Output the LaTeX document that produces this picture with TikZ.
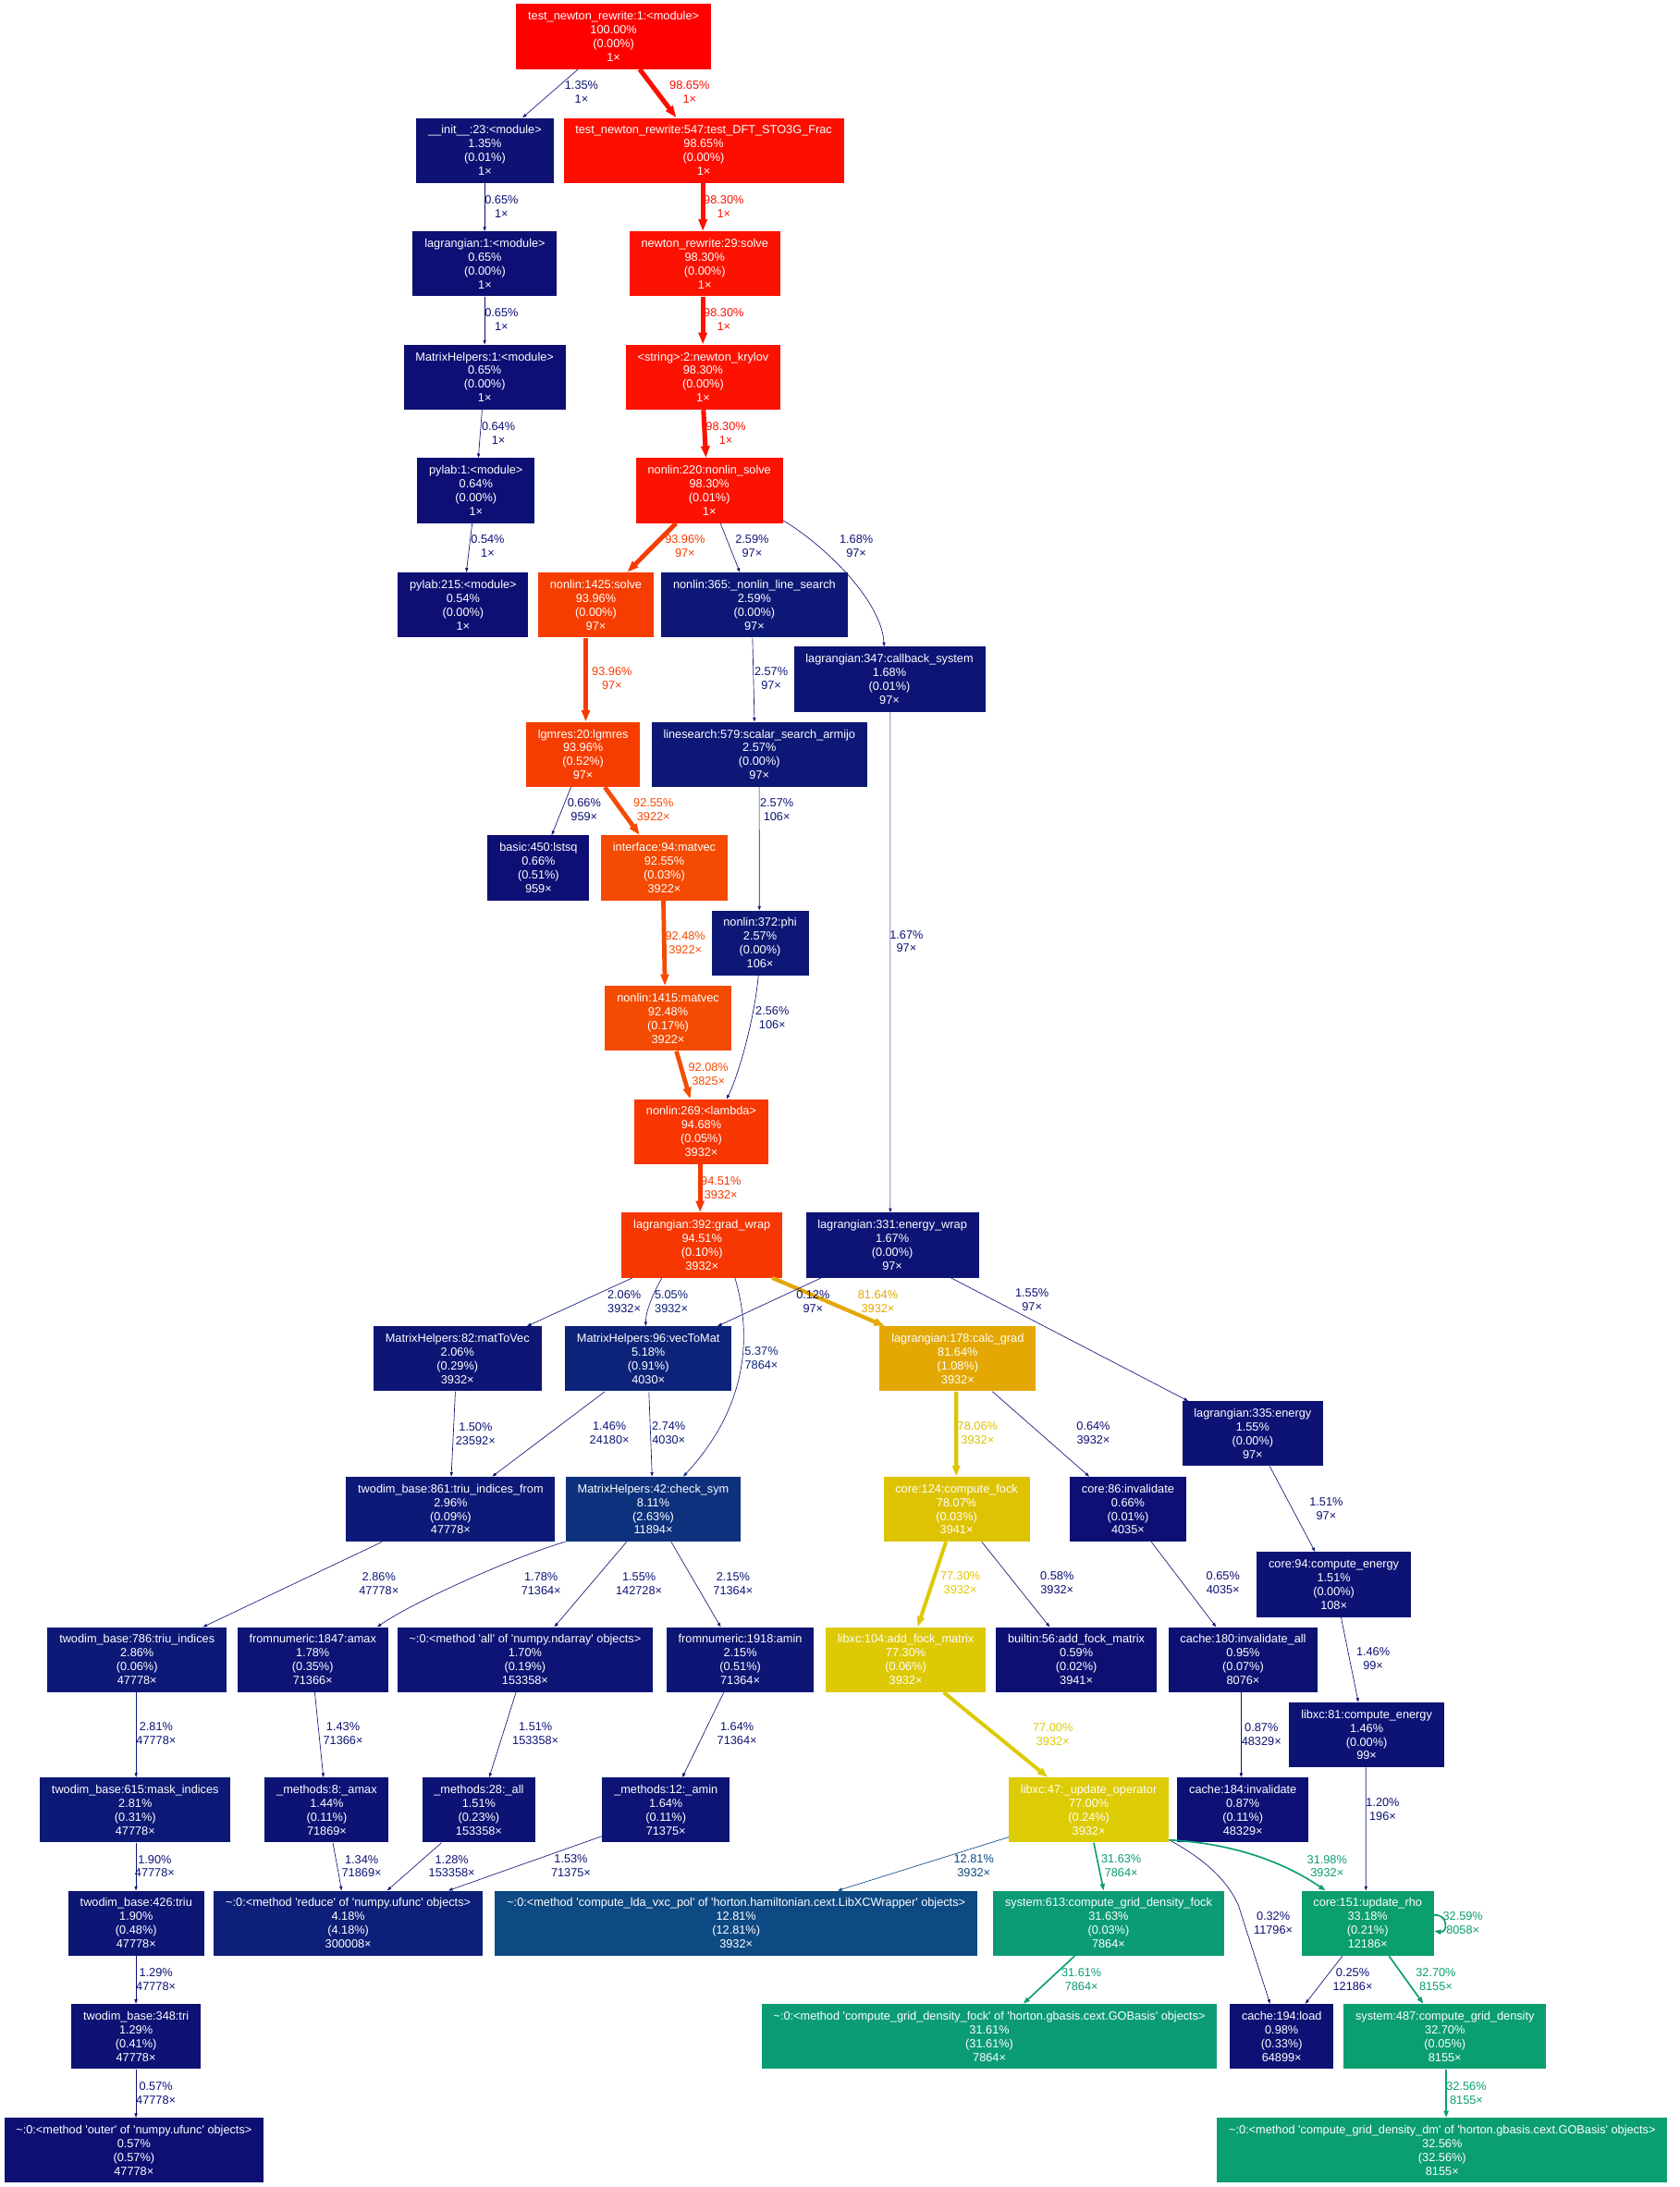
\documentclass[tikz,border=0pt]{standalone}
\usepackage{fontspec}
\usetikzlibrary{arrows.meta}
\newfontfamily\gpf{Liberation Sans}
\newcommand\gpfont{\gpf\fontsize{8.45pt}{9.9pt}\selectfont}
\newcommand\gpq{\textquotesingle}
\newcommand\gphue[2]{%
  \pgfmathsetmacro\gpx{(#2)+1-floor((#2)+1)}%
  \pgfmathsetmacro#1{max(0,min(1,ifthenelse(\gpx*6<1,\gpma+(\gpmb-\gpma)*\gpx*6,ifthenelse(\gpx*2<1,\gpmb,ifthenelse(\gpx*3<2,\gpma+(\gpmb-\gpma)*(2/3-\gpx)*6,\gpma)))))}}
\newcommand\gpdef[2]{%
  \pgfmathsetmacro\gpw{#2/100}%
  \pgfmathsetmacro\gph{2/3*(1-\gpw)}%
  \pgfmathsetmacro\gps{0.8+0.2*\gpw}%
  \pgfmathsetmacro\gpl{0.25+0.25*\gpw}%
  \pgfmathsetmacro\gpmb{\gpl*(1+\gps)}%
  \pgfmathsetmacro\gpma{2*\gpl-\gpmb}%
  \gphue\gpR{\gph+1/3}%
  \gphue\gpG{\gph}%
  \gphue\gpB{\gph-1/3}%
  \edef\gptmp{\noexpand\definecolor{#1}{rgb}{\gpR,\gpG,\gpB}}\gptmp}
\tikzset{
  gpn/.code={\gpdef{gpc}{#1}\pgfkeysalso{fill=gpc}},
  nd/.style={rectangle, gpn=#1, text=white, font=\gpfont, align=center,
    inner xsep=8.5pt, inner ysep=0pt, minimum height=46.5pt, anchor=west},
  ed/.code={%
    \gpdef{gpc}{#1}%
    \pgfmathsetmacro\gppw{max(4*#1/100,0.5)}%
    \pgfmathsetmacro\gplw{0.855*\gppw}%
    \pgfmathsetmacro\gpal{0.855*5*sqrt(\gppw)}%
    \pgfmathsetmacro\gpaw{0.7*\gpal}%
    \edef\gptmp{\noexpand\pgfkeysalso{color=gpc,line width=\gplw pt,-{Triangle[length=\gpal pt,width=\gpaw pt]}}}%
    \gptmp},
  elab/.style={font=\gpfont, align=center, inner sep=0pt},
}
\begin{document}
\begin{tikzpicture}[x=1pt,y=-1pt]
\fill[white] (0,0) rectangle (1204.6,1568);
\useasboundingbox (0,0) rectangle (1204.6,1568);
% nodes
\node[nd=100] (n1) at (370,26.2) {test\_newton\_rewrite:1:<module>\\100.00\%\\(0.00\%)\\1×};
\node[nd=1.35] (n2) at (298.4,107.8) {\_\_init\_\_:23:<module>\\1.35\%\\(0.01\%)\\1×};
\node[nd=98.65] (n3) at (403.9,107.8) {test\_newton\_rewrite:547:test\_DFT\_STO3G\_Frac\\98.65\%\\(0.00\%)\\1×};
\node[nd=0.65] (n4) at (295.8,189.2) {lagrangian:1:<module>\\0.65\%\\(0.00\%)\\1×};
\node[nd=98.30] (n5) at (451.1,189.2) {newton\_rewrite:29:solve\\98.30\%\\(0.00\%)\\1×};
\node[nd=0.65] (n6) at (289.3,270.4) {MatrixHelpers:1:<module>\\0.65\%\\(0.00\%)\\1×};
\node[nd=98.30] (n7) at (448.5,270.4) {<string>:2:newton\_krylov\\98.30\%\\(0.00\%)\\1×};
\node[nd=0.64] (n8) at (299,351.7) {pylab:1:<module>\\0.64\%\\(0.00\%)\\1×};
\node[nd=98.30] (n9) at (455.8,351.7) {nonlin:220:nonlin\_solve\\98.30\%\\(0.01\%)\\1×};
\node[nd=0.54] (n10) at (285.1,433.7) {pylab:215:<module>\\0.54\%\\(0.00\%)\\1×};
\node[nd=93.96] (n11) at (385.7,433.7) {nonlin:1425:solve\\93.96\%\\(0.00\%)\\97×};
\node[nd=2.59] (n12) at (474,433.7) {nonlin:365:\_nonlin\_line\_search\\2.59\%\\(0.00\%)\\97×};
\node[nd=1.68] (n13) at (569,487) {lagrangian:347:callback\_system\\1.68\%\\(0.01\%)\\97×};
\node[nd=2.57] (n14) at (467,540.9) {linesearch:579:scalar\_search\_armijo\\2.57\%\\(0.00\%)\\97×};
\node[nd=93.96] (n15) at (377,540.9) {lgmres:20:lgmres\\93.96\%\\(0.52\%)\\97×};
\node[nd=0.66] (n16) at (349.5,622.2) {basic:450:lstsq\\0.66\%\\(0.51\%)\\959×};
\node[nd=92.55] (n17) at (430.8,622.2) {interface:94:matvec\\92.55\%\\(0.03\%)\\3922×};
\node[nd=2.57] (n18) at (510,676.1) {nonlin:372:phi\\2.57\%\\(0.00\%)\\106×};
\node[nd=92.48] (n19) at (433.7,730.2) {nonlin:1415:matvec\\92.48\%\\(0.17\%)\\3922×};
\node[nd=94.68] (n20) at (454.7,811.4) {nonlin:269:<lambda>\\94.68\%\\(0.05\%)\\3932×};
\node[nd=94.51] (n21) at (445.6,892.7) {lagrangian:392:grad\_wrap\\94.51\%\\(0.10\%)\\3932×};
\node[nd=1.67] (n22) at (577.6,892.7) {lagrangian:331:energy\_wrap\\1.67\%\\(0.00\%)\\97×};
\node[nd=2.06, anchor=east] (n23) at (388.4,974.2) {MatrixHelpers:82:matToVec\\2.06\%\\(0.29\%)\\3932×};
\node[nd=5.18] (n24) at (405,974.2) {MatrixHelpers:96:vecToMat\\5.18\%\\(0.91\%)\\4030×};
\node[nd=81.64] (n25) at (630.6,974.2) {lagrangian:178:calc\_grad\\81.64\%\\(1.08\%)\\3932×};
\node[nd=1.55] (n26) at (847.5,1027.9) {lagrangian:335:energy\\1.55\%\\(0.00\%)\\97×};
\node[nd=2.96] (n27) at (248,1082) {twodim\_base:861:triu\_indices\_from\\2.96\%\\(0.09\%)\\47778×};
\node[nd=8.11] (n28) at (405.5,1082) {MatrixHelpers:42:check\_sym\\8.11\%\\(2.63\%)\\11894×};
\node[nd=78.07] (n29) at (633.3,1082) {core:124:compute\_fock\\78.07\%\\(0.03\%)\\3941×};
\node[nd=0.66] (n30) at (767,1082) {core:86:invalidate\\0.66\%\\(0.01\%)\\4035×};
\node[nd=1.51] (n31) at (901,1136) {core:94:compute\_energy\\1.51\%\\(0.00\%)\\108×};
\node[nd=2.86] (n32) at (33.9,1189.9) {twodim\_base:786:triu\_indices\\2.86\%\\(0.06\%)\\47778×};
\node[nd=1.78] (n33) at (170,1189.9) {fromnumeric:1847:amax\\1.78\%\\(0.35\%)\\71366×};
\node[nd=1.70] (n34) at (284.7,1189.9) {\textasciitilde:0:<method \gpq all\gpq\ of \gpq numpy.ndarray\gpq\ objects>\\1.70\%\\(0.19\%)\\153358×};
\node[nd=2.15] (n35) at (477.7,1189.9) {fromnumeric:1918:amin\\2.15\%\\(0.51\%)\\71364×};
\node[nd=77.30, anchor=east] (n36) at (707,1189.9) {libxc:104:add\_fock\_matrix\\77.30\%\\(0.06\%)\\3932×};
\node[nd=0.59] (n37) at (714,1189.9) {builtin:56:add\_fock\_matrix\\0.59\%\\(0.02\%)\\3941×};
\node[nd=0.95] (n38) at (837.6,1189.9) {cache:180:invalidate\_all\\0.95\%\\(0.07\%)\\8076×};
\node[nd=1.46] (n39) at (924.3,1243.8) {libxc:81:compute\_energy\\1.46\%\\(0.00\%)\\99×};
\node[nd=2.81] (n40) at (28.4,1297.7) {twodim\_base:615:mask\_indices\\2.81\%\\(0.31\%)\\47778×};
\node[nd=1.44] (n41) at (189.7,1297.7) {\_methods:8:\_amax\\1.44\%\\(0.11\%)\\71869×};
\node[nd=1.51] (n42) at (302.5,1297.7) {\_methods:28:\_all\\1.51\%\\(0.23\%)\\153358×};
\node[nd=1.64] (n43) at (431.7,1297.7) {\_methods:12:\_amin\\1.64\%\\(0.11\%)\\71375×};
\node[nd=77.00] (n44) at (723.2,1297.7) {libxc:47:\_update\_operator\\77.00\%\\(0.24\%)\\3932×};
\node[nd=0.87] (n45) at (844,1297.7) {cache:184:invalidate\\0.87\%\\(0.11\%)\\48329×};
\node[nd=1.90] (n46) at (48.8,1378.9) {twodim\_base:426:triu\\1.90\%\\(0.48\%)\\47778×};
\node[nd=4.18] (n47) at (153.2,1378.9) {\textasciitilde:0:<method \gpq reduce\gpq\ of \gpq numpy.ufunc\gpq\ objects>\\4.18\%\\(4.18\%)\\300008×};
\node[nd=12.81] (n48) at (354.8,1378.9) {\textasciitilde:0:<method \gpq compute\_lda\_vxc\_pol\gpq\ of \gpq horton.hamiltonian.cext.LibXCWrapper\gpq\ objects>\\12.81\%\\(12.81\%)\\3932×};
\node[nd=31.63] (n49) at (712,1378.9) {system:613:compute\_grid\_density\_fock\\31.63\%\\(0.03\%)\\7864×};
\node[nd=33.18] (n50) at (933,1378.9) {core:151:update\_rho\\33.18\%\\(0.21\%)\\12186×};
\node[nd=1.29] (n51) at (51,1460) {twodim\_base:348:tri\\1.29\%\\(0.41\%)\\47778×};
\node[nd=31.61, anchor=east] (n52) at (873,1460) {\textasciitilde:0:<method \gpq compute\_grid\_density\_fock\gpq\ of \gpq horton.gbasis.cext.GOBasis\gpq\ objects>\\31.61\%\\(31.61\%)\\7864×};
\node[nd=0.98] (n53) at (881.7,1460) {cache:194:load\\0.98\%\\(0.33\%)\\64899×};
\node[nd=32.70] (n54) at (963.3,1460) {system:487:compute\_grid\_density\\32.70\%\\(0.05\%)\\8155×};
\node[nd=0.57] (n55) at (2.8,1541.7) {\textasciitilde:0:<method \gpq outer\gpq\ of \gpq numpy.ufunc\gpq\ objects>\\0.57\%\\(0.57\%)\\47778×};
\node[nd=32.56] (n56) at (872.5,1541.7) {\textasciitilde:0:<method \gpq compute\_grid\_density\_dm\gpq\ of \gpq horton.gbasis.cext.GOBasis\gpq\ objects>\\32.56\%\\(32.56\%)\\8155×};
% edges
\draw[ed=1.35] ([xshift=44.5pt]n1.south west) -- ([xshift=76.3pt]n2.north west) node[elab,at={(417,66)}]{1.35\%\\1×};
\draw[ed=98.65] ([xshift=88.7pt]n1.south west) -- ([xshift=81.1pt]n3.north west) node[elab,at={(494.5,66)}]{98.65\%\\1×};
\draw[ed=98.30] ([xshift=100.1pt]n3.south west) -- ([xshift=52.9pt]n5.north west) node[elab,at={(519,148)}]{98.30\%\\1×};
\draw[ed=0.65] ([xshift=49.1pt]n2.south west) -- ([xshift=51.7pt]n4.north west) node[elab,at={(359.6,148)}]{0.65\%\\1×};
\draw[ed=0.65] ([xshift=51.7pt]n4.south west) -- ([xshift=58.2pt]n6.north west) node[elab,at={(359.6,229)}]{0.65\%\\1×};
\draw[ed=98.30] ([xshift=52.9pt]n5.south west) -- ([xshift=55.5pt]n7.north west) node[elab,at={(519,229)}]{98.30\%\\1×};
\draw[ed=0.64] ([xshift=56.4pt]n6.south west) -- ([xshift=44pt]n8.north west) node[elab,at={(357.4,310.4)}]{0.64\%\\1×};
\draw[ed=98.30] ([xshift=55.9pt]n7.south west) -- ([xshift=50.4pt]n9.north west) node[elab,at={(520.5,310.4)}]{98.30\%\\1×};
\draw[ed=0.54] ([xshift=39.6pt]n8.south west) -- ([xshift=49.3pt]n10.north west) node[elab,at={(349.7,391.8)}]{0.54\%\\1×};
\draw[ed=93.96] ([xshift=29pt]n9.south west) -- ([xshift=64.1pt]n11.north west) node[elab,at={(491.2,391.8)}]{93.96\%\\97×};
\draw[ed=2.59] ([xshift=60.8pt]n9.south west) -- ([xshift=56.5pt]n12.north west) node[elab,at={(539.3,391.8)}]{2.59\%\\97×};
\draw[ed=1.68] ([yshift=2pt]n9.south east) .. controls (590,390) and (632,430) .. ([xshift=65pt]n13.north west) node[elab,at={(614,391.8)}]{1.68\%\\97×};
\draw[ed=93.96] ([xshift=34.3pt]n11.south west) -- ([xshift=43pt]n15.north west) node[elab,at={(438.8,486.3)}]{93.96\%\\97×};
\draw[ed=2.57] ([xshift=65.6pt]n12.south west) -- ([xshift=74pt]n14.north west) node[elab,at={(553,486.3)}]{2.57\%\\97×};
\draw[ed=1.67] ([xshift=69.4pt]n13.south west) -- ([xshift=60.8pt]n22.north west) node[elab,at={(650,675)}]{1.67\%\\97×};
\draw[ed=0.66] ([xshift=32.4pt]n15.south west) -- ([xshift=46.1pt]n16.north west) node[elab,at={(418.9,580.8)}]{0.66\%\\959×};
\draw[ed=92.55] ([xshift=56.7pt]n15.south west) -- ([xshift=27.9pt]n17.north west) node[elab,at={(468.6,580.8)}]{92.55\%\\3922×};
\draw[ed=2.57] ([xshift=77.4pt]n14.south west) -- ([xshift=34.5pt]n18.north west) node[elab,at={(557,580.8)}]{2.57\%\\106×};
\draw[ed=92.48] ([xshift=44.9pt]n17.south west) -- ([xshift=43.1pt]n19.north west) node[elab,at={(491.4,675.7)}]{92.48\%\\3922×};
\draw[ed=2.56] ([xshift=33.8pt]n18.south west) .. controls (541,730) and (530,770) .. ([xshift=66.3pt]n20.north west) node[elab,at={(553.8,729.5)}]{2.56\%\\106×};
\draw[ed=92.08] ([xshift=51.3pt]n19.south west) -- ([xshift=40.3pt]n20.north west) node[elab,at={(508,770)}]{92.08\%\\3825×};
\draw[ed=94.51] ([xshift=47.3pt]n20.south west) -- ([xshift=56.4pt]n21.north west) node[elab,at={(517,852)}]{94.51\%\\3932×};
\draw[ed=2.06] ([xshift=8pt]n21.south west) -- ([xshift=-10.4pt]n23.north east) node[elab,at={(447.6,933)}]{2.06\%\\3932×};
\draw[ed=5.05] ([xshift=29pt]n21.south west) .. controls (468,928) and (463,940) .. ([xshift=58pt]n24.north west) node[elab,at={(481.4,933)}]{5.05\%\\3932×};
\draw[ed=5.37] ([xshift=81.4pt]n21.south west) .. controls (540,960) and (535,1010) .. ([xshift=84.5pt]n28.north west) node[elab,at={(546,973.6)}]{5.37\%\\7864×};
\draw[ed=81.64] ([xshift=108.1pt]n21.south west) -- ([xshift=3.8pt]n25.north west) node[elab,at={(629.5,933)}]{81.64\%\\3932×};
\draw[ed=0.12] ([xshift=11.4pt]n22.south west) -- ([xshift=109.6pt]n24.north west) node[elab,at={(583,933)}]{0.12\%\\97×};
\draw[ed=1.55] ([xshift=104.3pt]n22.south west) -- ([xshift=4.5pt]n26.north west) node[elab,at={(740,932)}]{1.55\%\\97×};
\draw[ed=1.50] ([xshift=-61.9pt]n23.south east) -- ([xshift=75.6pt]n27.north west) node[elab,at={(341,1028)}]{1.50\%\\23592×};
\draw[ed=1.46] ([xshift=28.8pt]n24.south west) -- ([xshift=105pt]n27.north west) node[elab,at={(437,1027.6)}]{1.46\%\\24180×};
\draw[ed=2.74] ([xshift=60.3pt]n24.south west) -- ([xshift=62.1pt]n28.north west) node[elab,at={(479.5,1027.6)}]{2.74\%\\4030×};
\draw[ed=78.06] ([xshift=55.1pt]n25.south west) -- ([xshift=52.4pt]n29.north west) node[elab,at={(701,1027.6)}]{78.06\%\\3932×};
\draw[ed=0.64] ([xshift=81pt]n25.south west) -- ([xshift=14pt]n30.north west) node[elab,at={(784,1027.6)}]{0.64\%\\3932×};
\draw[ed=1.51] ([xshift=63pt]n26.south west) -- ([xshift=42pt]n31.north west) node[elab,at={(951,1081.6)}]{1.51\%\\97×};
\draw[ed=2.86] ([xshift=26pt]n27.south west) -- ([xshift=111.7pt]n32.north west) node[elab,at={(271.7,1135.6)}]{2.86\%\\47778×};
\draw[ed=1.78] (n28.south west) .. controls (380,1112) and (300,1146) .. ([xshift=100.5pt]n33.north west) node[elab,at={(388,1135.6)}]{1.78\%\\71364×};
\draw[ed=1.55] ([xshift=43.8pt]n28.south west) -- ([xshift=112.8pt]n34.north west) node[elab,at={(458.2,1135.6)}]{1.55\%\\142728×};
\draw[ed=2.15] ([xshift=75.8pt]n28.south west) -- ([xshift=39.1pt]n35.north west) node[elab,at={(525.7,1135.6)}]{2.15\%\\71364×};
\draw[ed=77.30] ([xshift=45pt]n29.south west) -- ([xshift=-49pt]n36.north east) node[elab,at={(688.6,1135)}]{77.30\%\\3932×};
\draw[ed=0.58] ([xshift=70.7pt]n29.south west) -- ([xshift=38.7pt]n37.north west) node[elab,at={(758,1135)}]{0.58\%\\3932×};
\draw[ed=0.65] ([xshift=58.6pt]n30.south west) -- ([xshift=34.4pt]n38.north west) node[elab,at={(877,1135)}]{0.65\%\\4035×};
\draw[ed=1.46] ([xshift=60.6pt]n31.south west) -- ([xshift=49.7pt]n39.north west) node[elab,at={(984.6,1189)}]{1.46\%\\99×};
\draw[ed=2.81] ([xshift=63.7pt]n32.south west) -- ([xshift=69.2pt]n40.north west) node[elab,at={(112,1243)}]{2.81\%\\47778×};
\draw[ed=1.43] ([xshift=55.7pt]n33.south west) -- ([xshift=42.2pt]n41.north west) node[elab,at={(246,1243)}]{1.43\%\\71366×};
\draw[ed=1.51] ([xshift=85.3pt]n34.south west) -- ([xshift=48.3pt]n42.north west) node[elab,at={(384,1243)}]{1.51\%\\153358×};
\draw[ed=1.64] ([xshift=41.3pt]n35.south west) -- ([xshift=57.6pt]n43.north west) node[elab,at={(528.5,1243)}]{1.64\%\\71364×};
\draw[ed=77.00] ([xshift=-30.3pt]n36.south east) -- ([xshift=28.1pt]n44.north west) node[elab,at={(755,1243.3)}]{77.00\%\\3932×};
\draw[ed=0.87] ([xshift=52.4pt]n38.south west) -- ([xshift=46pt]n45.north west) node[elab,at={(904.5,1243.3)}]{0.87\%\\48329×};
\draw[ed=1.20] ([xshift=55.1pt]n39.south west) -- ([xshift=46.4pt]n50.north west) node[elab,at={(991.5,1297.5)}]{1.20\%\\196×};
\draw[ed=1.90] ([xshift=69.1pt]n40.south west) -- ([xshift=48.7pt]n46.north west) node[elab,at={(111,1338)}]{1.90\%\\47778×};
\draw[ed=1.34] ([xshift=49pt]n41.south west) -- ([xshift=91.8pt]n47.north west) node[elab,at={(259.3,1338)}]{1.34\%\\71869×};
\draw[ed=1.28] ([xshift=14.1pt]n42.south west) -- ([xshift=124.4pt]n47.north west) node[elab,at={(324,1338)}]{1.28\%\\153358×};
\draw[ed=1.53] ([yshift=4.7pt]n43.south west) -- ([xshift=168.3pt]n47.north west) node[elab,at={(409.4,1337.7)}]{1.53\%\\71375×};
\draw[ed=12.81] ([yshift=4pt]n44.south west) -- ([xshift=245.9pt]n48.north west) node[elab,at={(698.3,1337.7)}]{12.81\%\\3932×};
\draw[ed=31.63] ([xshift=61.1pt]n44.south west) -- ([xshift=79.4pt]n49.north west) node[elab,at={(804,1337.8)}]{31.63\%\\7864×};
\draw[ed=0.32] ([yshift=2pt]n44.south east) .. controls (868,1335) and (882,1352) .. (888,1366) -- ([xshift=29pt]n53.north west) node[elab,at={(913,1378.7)}]{0.32\%\\11796×};
\draw[ed=31.98] ([yshift=2pt]n44.south east) .. controls (890,1322) and (925,1338) .. ([xshift=17.5pt]n50.north west) node[elab,at={(951.6,1338)}]{31.98\%\\3932×};
\draw[ed=32.59] ([yshift=5.8pt]n50.east) .. controls ([xshift=10pt,yshift=7pt]n50.east) and ([xshift=10pt,yshift=-7pt]n50.east) .. ([yshift=-5.6pt]n50.east) node[elab,at={(1049,1378.7)}]{32.59\%\\8058×};
\draw[ed=31.61] ([xshift=58.6pt]n49.south west) -- ([xshift=-139.2pt]n52.north east) node[elab,at={(775.5,1419)}]{31.61\%\\7864×};
\draw[ed=0.25] ([xshift=29.6pt]n50.south west) -- ([xshift=54.3pt]n53.north west) node[elab,at={(970,1419)}]{0.25\%\\12186×};
\draw[ed=32.70] ([xshift=63pt]n50.south west) -- ([xshift=57.3pt]n54.north west) node[elab,at={(1029.6,1419)}]{32.70\%\\8155×};
\draw[ed=1.29] ([xshift=48.7pt]n46.south west) -- ([xshift=46.5pt]n51.north west) node[elab,at={(111.8,1419)}]{1.29\%\\47778×};
\draw[ed=0.57] ([xshift=46.5pt]n51.south west) -- ([xshift=94.7pt]n55.north west) node[elab,at={(111.8,1500.7)}]{0.57\%\\47778×};
\draw[ed=32.56] ([xshift=73.7pt]n54.south west) -- ([xshift=164.5pt]n56.north west) node[elab,at={(1051.5,1500.7)}]{32.56\%\\8155×};
\end{tikzpicture}
\end{document}
